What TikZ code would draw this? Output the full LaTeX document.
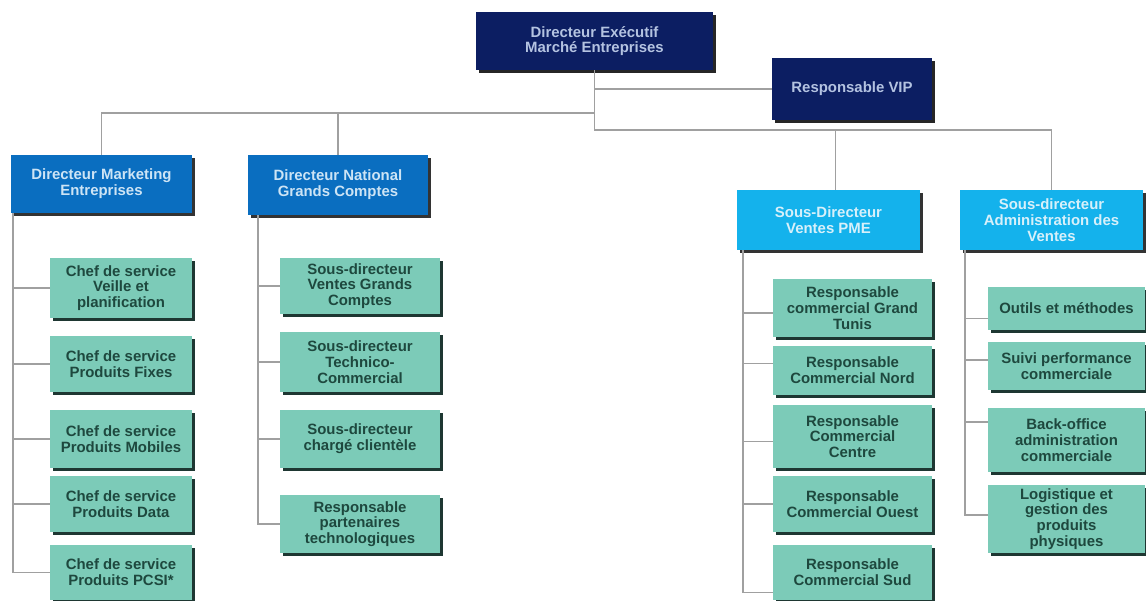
\documentclass[tikz,border=0pt]{standalone}
\usepackage{fontspec}
\setmainfont{Liberation Sans}
\usetikzlibrary{shadows}
\definecolor{navy}{RGB}{12,30,98}
\definecolor{navytext}{RGB}{180,195,225}
\definecolor{midblue}{RGB}{10,110,192}
\definecolor{midbluetext}{RGB}{205,228,245}
\definecolor{skyblue}{RGB}{20,178,236}
\definecolor{skybluetext}{RGB}{215,240,250}
\definecolor{mint}{RGB}{124,203,184}
\definecolor{minttext}{RGB}{30,72,62}
\definecolor{mintshadow}{RGB}{30,55,50}
\definecolor{linkgray}{RGB}{160,160,160}
\tikzset{
  box/.style={rectangle, inner sep=0pt, align=center, font=\bfseries\fontsize{8.5}{9}\selectfont},
  topbox/.style={box, fill=navy, text=navytext,
    general shadow={shadow xshift=1.8pt, shadow yshift=-1.8pt, fill=black!85}},
  dirbox/.style={box, fill=midblue, text=midbluetext,
    general shadow={shadow xshift=1.8pt, shadow yshift=-1.8pt, fill=black!80}},
  subbox/.style={box, fill=skyblue, text=skybluetext,
    general shadow={shadow xshift=1.8pt, shadow yshift=-1.8pt, fill=black!80}},
  unitbox/.style={box, fill=mint, text=minttext,
    general shadow={shadow xshift=1.8pt, shadow yshift=-1.8pt, fill=mintshadow}},
  link/.style={draw=linkgray, line width=1.1pt}
}
% box given by its corners in pixel units
\newcommand\orgbox[7]{%
  \node[#1, minimum width={(#5-#3)*0.02cm}, minimum height={(#6-#4)*0.02cm}]
    (#2) at ({(#3+#5)/2},{(#4+#6)/2}) {#7};}
\begin{document}
\begin{tikzpicture}[x=0.02cm, y=-0.02cm]
\useasboundingbox (0,0) rectangle (1146,601);

% direction
\orgbox{topbox}{dir}{476}{12}{713}{70}{Directeur Exécutif\\Marché Entreprises}
\orgbox{topbox}{vip}{772}{58}{932}{120}{Responsable VIP}

% directions and sub-directions
\orgbox{dirbox}{mkt}{11}{155}{192}{213}{Directeur Marketing\\Entreprises}
\orgbox{dirbox}{gc}{248}{155}{428}{215}{Directeur National\\Grands Comptes}
\orgbox{subbox}{pme}{737}{190}{920}{250}{Sous-Directeur\\Ventes PME}
\orgbox{subbox}{adm}{960}{190}{1143}{250}{Sous-directeur\\Administration des\\Ventes}

% marketing units
\orgbox{unitbox}{m1}{50}{258}{192}{318}{Chef de service\\Veille et\\planification}
\orgbox{unitbox}{m2}{50}{336}{192}{392}{Chef de service\\Produits Fixes}
\orgbox{unitbox}{m3}{50}{410}{192}{468}{Chef de service\\Produits Mobiles}
\orgbox{unitbox}{m4}{50}{476}{192}{532}{Chef de service\\Produits Data}
\orgbox{unitbox}{m5}{50}{545}{192}{600}{Chef de service\\Produits PCSI*}

% key accounts units
\orgbox{unitbox}{g1}{280}{258}{440}{314}{Sous-directeur\\Ventes Grands\\Comptes}
\orgbox{unitbox}{g2}{280}{332}{440}{392}{Sous-directeur\\Technico-\\Commercial}
\orgbox{unitbox}{g3}{280}{410}{440}{468}{Sous-directeur\\chargé clientèle}
\orgbox{unitbox}{g4}{280}{495}{440}{553}{Responsable\\partenaires\\technologiques}

% SME sales units
\orgbox{unitbox}{p1}{773}{279}{932}{337}{Responsable\\commercial Grand\\Tunis}
\orgbox{unitbox}{p2}{773}{346}{932}{395}{Responsable\\Commercial Nord}
\orgbox{unitbox}{p3}{773}{405}{932}{468}{Responsable\\Commercial\\Centre}
\orgbox{unitbox}{p4}{773}{476}{932}{532}{Responsable\\Commercial Ouest}
\orgbox{unitbox}{p5}{773}{545}{932}{600}{Responsable\\Commercial Sud}

% sales administration units
\orgbox{unitbox}{a1}{988}{287}{1145}{330}{Outils et méthodes}
\orgbox{unitbox}{a2}{988}{342}{1145}{390}{Suivi performance\\commerciale}
\orgbox{unitbox}{a3}{988}{408}{1145}{472}{Back-office\\administration\\commerciale}
\orgbox{unitbox}{a4}{988}{485}{1145}{553}{Logistique et\\gestion des\\produits\\physiques}

% top-level connectors
\coordinate (lbar) at (0,113);
\coordinate (rbar) at (0,130);
\draw[link] (dir.south) |- (vip.west);
\draw[link] (dir.south) |- (mkt.north |- lbar) -- (mkt.north);
\draw[link] (gc.north |- lbar) -- (gc.north);
\draw[link] (dir.south) |- ([xshift=0.14cm]pme.north |- rbar) -| (adm.north);
\draw[link] ([xshift=0.14cm]pme.north |- rbar) -- ([xshift=0.14cm]pme.north);

% marketing spine
\foreach \c in {m1,m2,m3,m4,m5}
  \draw[link] ([xshift=0.04cm]mkt.south west) |- (\c.west);
% key accounts spine
\foreach \c in {g1,g2,g3,g4}
  \draw[link] ([xshift=0.2cm]gc.south west) |- (\c.west);
% SME spine
\foreach \c/\s in {p1/-0.1cm,p2/0.14cm,p3/-0.1cm,p4/0cm,p5/-0.4cm}
  \draw[link] ([xshift=0.12cm]pme.south west) |- ([yshift=\s]\c.west);
% administration spine
\foreach \c/\s in {a1/-0.2cm,a2/0.12cm,a3/0.36cm,a4/0.08cm}
  \draw[link] ([xshift=0.1cm]adm.south west) |- ([yshift=\s]\c.west);
\end{tikzpicture}
\end{document}
